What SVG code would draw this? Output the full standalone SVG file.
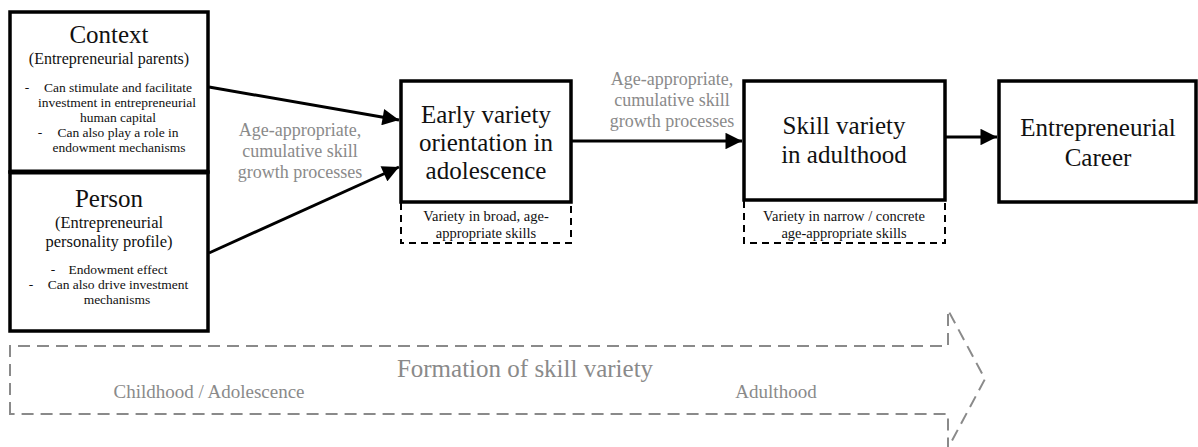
<svg xmlns="http://www.w3.org/2000/svg" width="1198" height="447" viewBox="0 0 1198 447">
<style>
.box{fill:#fff;stroke:#000;stroke-width:3.5}
.dbox{fill:none;stroke:#000;stroke-width:2;stroke-dasharray:7,5}
text{font-family:'Liberation Serif','Times New Roman',Tinos,'DejaVu Serif',serif}
.t{fill:#111;text-anchor:middle}
.g{fill:#8a8a8a;text-anchor:middle}
.line{stroke:#000;stroke-width:3;fill:none}
.big{fill:none;stroke:#8a8a8a;stroke-width:2;stroke-dasharray:12,7}
</style>
<defs>
<marker id="ah" viewBox="0 0 10 10" refX="10" refY="5" markerWidth="6" markerHeight="5.5" markerUnits="strokeWidth" orient="auto">
<path d="M0,0 L10,5 L0,10 z" fill="#000"/>
</marker>
</defs>
<rect width="1198" height="447" fill="#fff"/>
<g id="timeline">
<path class="big" d="M10,414 L10,346 L948,346 L948,310 L985,379 L948,448 L948,414 Z"/>
<text class="g" x="525" y="377" font-size="25">Formation of skill variety</text>
<text class="g" x="209" y="398" font-size="19">Childhood / Adolescence</text>
<text class="g" x="776" y="398" font-size="19">Adulthood</text>
</g>
<g id="connectors">
<line class="line" x1="209" y1="87" x2="399" y2="120" marker-end="url(#ah)"/>
<line class="line" x1="209" y1="253" x2="399" y2="167" marker-end="url(#ah)"/>
<line class="line" x1="572" y1="141" x2="742" y2="141" marker-end="url(#ah)"/>
<line class="line" x1="946" y1="137" x2="997" y2="137" marker-end="url(#ah)"/>
<text class="g" font-size="18"><tspan x="300" y="136">Age-appropriate,</tspan><tspan x="300" y="157">cumulative skill</tspan><tspan x="300" y="178">growth processes</tspan></text>
<text class="g" font-size="18"><tspan x="672" y="85">Age-appropriate,</tspan><tspan x="672" y="106">cumulative skill</tspan><tspan x="672" y="127">growth processes</tspan></text>
</g>
<g id="context">
<rect class="box" x="10" y="12" width="198" height="160"/>
<text class="t" x="109" y="43" font-size="25">Context</text>
<text class="t" x="109" y="64" font-size="16">(Entrepreneurial parents)</text>
<text class="t" x="27" y="92" font-size="13.5">-</text>
<text class="t" x="118" y="92" font-size="13.5">Can stimulate and facilitate</text>
<text class="t" x="117" y="107" font-size="13.5">investment in entrepreneurial</text>
<text class="t" x="118" y="122" font-size="13.5">human capital</text>
<text class="t" x="40" y="137" font-size="13.5">-</text>
<text class="t" x="118" y="137" font-size="13.5">Can also play a role in</text>
<text class="t" x="119" y="152" font-size="13.5">endowment mechanisms</text>
</g>
<g id="person">
<rect class="box" x="10" y="172" width="198" height="159"/>
<line x1="10" y1="172" x2="208" y2="172" stroke="#000" stroke-width="5"/>
<text class="t" x="109" y="207" font-size="25">Person</text>
<text class="t" x="109" y="228" font-size="16.5">(Entrepreneurial</text>
<text class="t" x="109" y="247" font-size="16.5">personality profile)</text>
<text class="t" x="53" y="274" font-size="13.5">-</text>
<text class="t" x="118" y="274" font-size="13.5">Endowment effect</text>
<text class="t" x="31" y="289" font-size="13.5">-</text>
<text class="t" x="118" y="289" font-size="13.5">Can also drive investment</text>
<text class="t" x="117" y="304" font-size="13.5">mechanisms</text>
</g>
<g id="early">
<rect class="box" x="401" y="81" width="170" height="121"/>
<text class="t" font-size="25"><tspan x="486" y="123">Early variety</tspan><tspan x="486" y="151">orientation in</tspan><tspan x="486" y="179">adolescence</tspan></text>
<path class="dbox" d="M401,203 L401,243 L571,243 L571,203"/>
<text class="t" font-size="14.5"><tspan x="486" y="221">Variety in broad, age-</tspan><tspan x="486" y="238">appropriate skills</tspan></text>
</g>
<g id="skill">
<rect class="box" x="744" y="81" width="201" height="119"/>
<text class="t" font-size="25"><tspan x="844" y="134">Skill variety</tspan><tspan x="844" y="163">in adulthood</tspan></text>
<path class="dbox" d="M744,201 L744,243 L945,243 L945,201"/>
<text class="t" font-size="14.5"><tspan x="844" y="221">Variety in narrow / concrete</tspan><tspan x="844" y="238">age-appropriate skills</tspan></text>
</g>
<g id="career">
<rect class="box" x="999" y="81" width="197" height="121"/>
<text class="t" font-size="25"><tspan x="1098" y="136">Entrepreneurial</tspan><tspan x="1098" y="166">Career</tspan></text>
</g>
</svg>
